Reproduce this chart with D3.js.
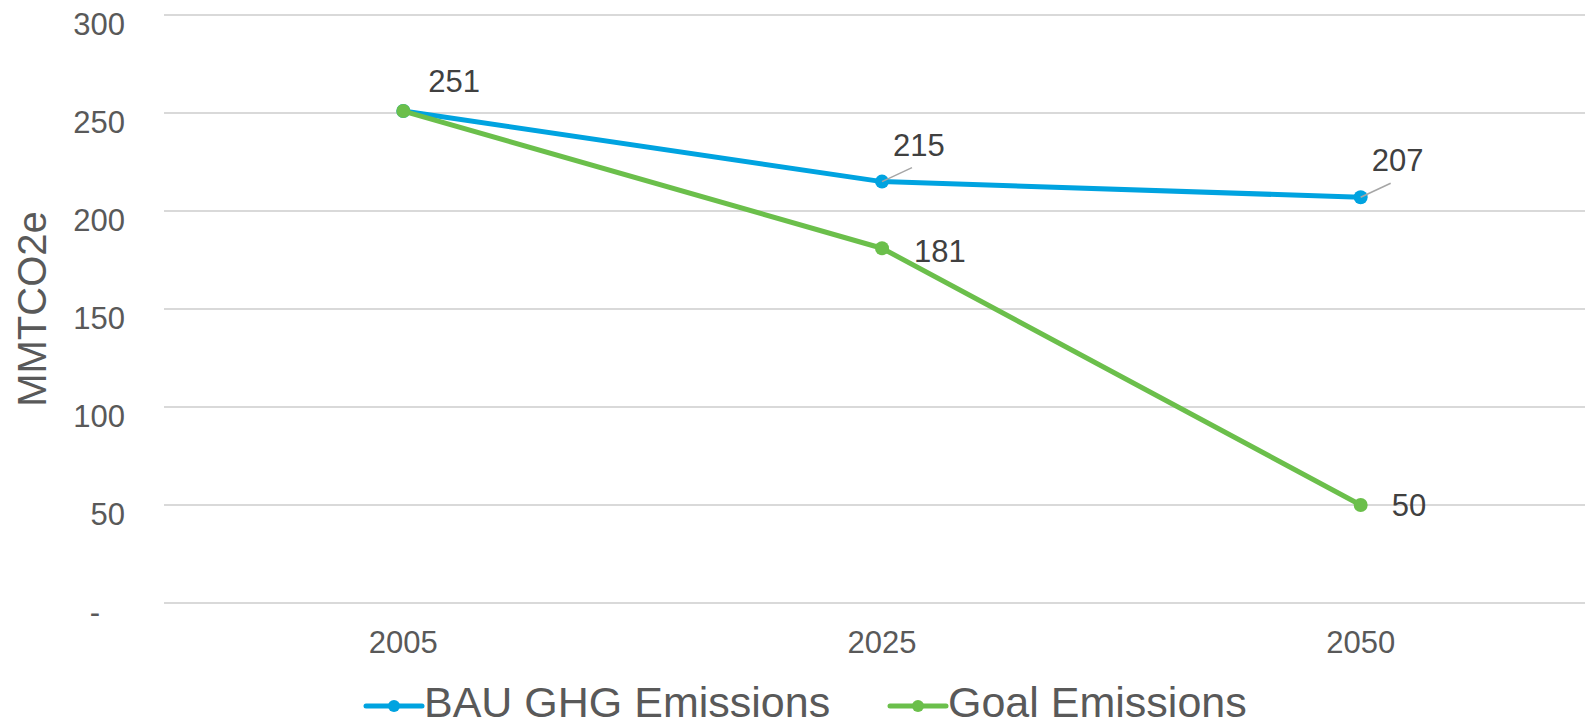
<!DOCTYPE html>
<html>
<head>
<meta charset="utf-8">
<script src="https://cdn.jsdelivr.net/npm/d3@7"></script>
<style>
  html, body { margin: 0; padding: 0; background: #fff; overflow: hidden; }
  text { font-family: Arial, "Liberation Sans", sans-serif; }
</style>
</head>
<body>
<svg id="chart" width="1585" height="726"></svg>
<script>
const years = ["2005", "2025", "2050"];
const bauValues = [251, 215, 207];
const goalValues = [251, 181, 50];
const yTicks = [0, 50, 100, 150, 200, 250, 300];
const seriesNames = ["BAU GHG Emissions", "Goal Emissions"];
const seriesColors = ["#00A3E0", "#6BBF4B"];
const yTitle = "MMTCO2e";

const svg = d3.select("#chart");
const W = 1585, H = 726;
const plot = { left: 164, right: 1600, top: 15, bottom: 603 };

const x = d3.scaleBand().domain(years).range([plot.left, plot.right]);
const cx = d => x(d) + x.bandwidth() / 2;
const y = d3.scaleLinear().domain([0, 300]).range([plot.bottom, plot.top]);

// gridlines
svg.append("g").selectAll("line").data(yTicks).join("line")
  .attr("x1", plot.left).attr("x2", W)
  .attr("y1", d => y(d)).attr("y2", d => y(d))
  .attr("stroke", "#D9D9D9").attr("stroke-width", 2);

// y axis tick labels
const yAxis = d3.axisLeft(y).tickValues(yTicks).tickSize(0).tickPadding(0)
  .tickFormat(d => d === 0 ? "-" : d3.format(",")(d));
const ya = svg.append("g").attr("transform", `translate(125,0)`).call(yAxis);
ya.select(".domain").remove();
ya.selectAll("text")
  .attr("font-size", 31).attr("fill", "#595959")
  .attr("font-family", "Arial, 'Liberation Sans', sans-serif")
  .attr("dy", "0.35em")
  .attr("y", 9)
  .attr("x", d => d === 0 ? -25 : 0);

// x axis tick labels
const xAxis = d3.axisBottom(x).tickSize(0).tickPadding(0);
const xa = svg.append("g").attr("transform", `translate(0,${plot.bottom})`).call(xAxis);
xa.select(".domain").remove();
xa.selectAll("text")
  .attr("font-size", 31).attr("fill", "#595959")
  .attr("font-family", "Arial, 'Liberation Sans', sans-serif")
  .attr("dy", 0).attr("y", 50);

// y title
svg.append("text")
  .attr("transform", `translate(46,${(plot.top + plot.bottom) / 2}) rotate(-90)`)
  .attr("text-anchor", "middle")
  .attr("font-size", 40).attr("fill", "#595959")
  .text(yTitle);

const series = [
  { name: seriesNames[0], values: bauValues, color: seriesColors[0] },
  { name: seriesNames[1], values: goalValues, color: seriesColors[1] }
];

const line = d3.line().x((d, i) => cx(years[i])).y(d => y(d));

series.forEach(s => {
  svg.append("path").datum(s.values)
    .attr("d", line).attr("fill", "none")
    .attr("stroke", s.color).attr("stroke-width", 5)
    .attr("stroke-linejoin", "round").attr("stroke-linecap", "round");
  svg.append("g").selectAll("circle").data(s.values).join("circle")
    .attr("cx", (d, i) => cx(years[i])).attr("cy", d => y(d))
    .attr("r", 7).attr("fill", s.color);
});

// data labels: [seriesIndex, pointIndex, dx, dy, leader]
const labelPlacement = [
  [0, 0, 25, -30, false],
  [0, 1, 11, -36, true],
  [0, 2, 11, -37, true],
  [1, 1, 32, 3, false],
  [1, 2, 31, 0, false]
];
const lg = svg.append("g");
labelPlacement.forEach(([si, pi, dx, dy, leader]) => {
  const v = series[si].values[pi];
  const px = cx(years[pi]), py = y(v);
  if (leader) {
    lg.append("line")
      .attr("x1", px).attr("y1", py)
      .attr("x2", px + 30).attr("y2", py - 14)
      .attr("stroke", "#A6A6A6").attr("stroke-width", 1.5);
  }
  lg.append("text")
    .attr("x", px + dx).attr("y", py + dy)
    .attr("dy", "0.35em")
    .attr("font-size", 31).attr("fill", "#404040")
    .text(v);
});

// legend
const legendItems = [
  { name: seriesNames[0], color: seriesColors[0], x: 366 },
  { name: seriesNames[1], color: seriesColors[1], x: 890 }
];
const leg = svg.append("g");
legendItems.forEach(it => {
  const ly = 706;
  leg.append("line").attr("x1", it.x).attr("x2", it.x + 56)
    .attr("y1", ly).attr("y2", ly)
    .attr("stroke", it.color).attr("stroke-width", 5).attr("stroke-linecap", "round");
  leg.append("circle").attr("cx", it.x + 28).attr("cy", ly).attr("r", 6).attr("fill", it.color);
  leg.append("text").attr("x", it.x + 58).attr("y", 717)
    .attr("font-size", 43).attr("fill", "#595959").text(it.name);
});
</script>
</body>
</html>
